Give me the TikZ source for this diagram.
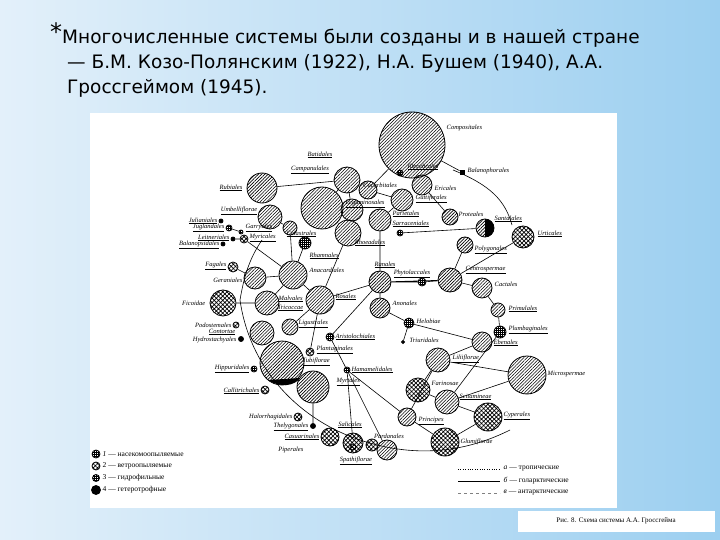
\documentclass[tikz,border=0pt]{standalone}
\usepackage{fontspec}
\newfontfamily\titlefont{DejaVu Sans}
\newfontfamily\lblfont{Liberation Serif}
\usetikzlibrary{patterns,patterns.meta}
\definecolor{bgl}{HTML}{E3F0FA}
\definecolor{bgr}{HTML}{9CCFF0}
\tikzset{
 cb/.style={circle,draw,inner sep=0pt,line width=0.8pt},
 hatch/.style={cb,pattern={Lines[angle=45,distance=2.3pt,line width=0.6pt]}},
 grid/.style={cb,pattern={Hatch[angle=45,distance=3pt,line width=0.7pt]}},
 dots/.style={cb,pattern={Hatch[angle=0,distance=2pt,line width=0.5pt]}},
 blk/.style={cb,fill=black},
 lbl/.style={font=\lblfont\itshape\fontsize{6.5}{7}\selectfont,inner sep=0.5pt},
 con/.style={line width=0.6pt},
 leg/.style={font=\lblfont\fontsize{7.5}{8}\selectfont,anchor=west,inner sep=0.5pt}
}
\newcommand\cc[4]{\node[#1,minimum size=#4pt] (#2) at (#3) {};}
\begin{document}
\begin{tikzpicture}[x=1pt,y=-1pt]
\useasboundingbox (0,0) rectangle (720,540);
\shade[left color=bgl,right color=bgr] (0,0) rectangle (720,540);
\fill[white] (90,113) rectangle (617,508);
\fill[white] (518,511) rectangle (715,532);
\node[font=\lblfont\fontsize{7}{8}\selectfont] (cap) at (616,521) {Рис. 8. Схема системы А.А. Гроссгейма};
% title
\node[font=\titlefont\fontsize{24}{24}\selectfont,anchor=north west,inner sep=0] (ast) at (50,22) {*};
\node[font=\titlefont\fontsize{18.5}{25}\selectfont,anchor=north west,align=left,inner sep=0] (title) at (62,29)
{Многочисленные системы были созданы и в нашей стране\\
\hspace*{5pt}— Б.М. Козо-Полянским (1922), Н.А. Бушем (1940), А.А.\\
\hspace*{5pt}Гроссгеймом (1945).};
% big arc
\draw[con] (453,170) .. controls (490,185) and (505,200) .. (512,225);
\draw[con] (240,300) .. controls (250,370) and (300,420) .. (360,440) .. controls (420,460) and (470,450) .. (510,430);
\draw[con] (240,300) .. controls (245,270) and (252,255) .. (262,240);
% circles
\cc{hatch}{comp}{412,145}{66}
\cc{hatch}{camp}{347,180}{26}
\cc{hatch}{c2}{352,210}{22}
\cc{hatch}{cucu}{368,190}{18}
\cc{hatch}{eric}{422,185}{20}
\cc{hatch}{legu}{402,200}{22}
\cc{hatch}{pari}{380,220}{22}
\cc{hatch}{prot}{450,217}{16}
\node[cb,minimum size=18pt,path picture={\fill (path picture bounding box.north) rectangle (path picture bounding box.south east);\fill[pattern={Lines[angle=45,distance=2.3pt,line width=0.6pt]}] (path picture bounding box.north) rectangle (path picture bounding box.south west);}] (half) at (485,228) {};
\cc{grid}{urti}{523,237}{22}
\cc{hatch}{poly}{465,245}{16}
\cc{hatch}{cent}{450,280}{24}
\cc{hatch}{cact}{482,288}{20}
\cc{dots}{phyt}{422,282}{8}
\cc{hatch}{rhoe}{380,282}{22}
\cc{dots}{sarr}{400,233}{6}
\cc{hatch}{bubi}{262,188}{30}
\cc{hatch}{umbe}{270,217}{24}
\cc{hatch}{big1}{322,208}{42}
\cc{hatch}{c3}{348,233}{26}
\cc{hatch}{cela}{290,228}{14}
\cc{dots}{rham}{305,243}{12}
\cc{hatch}{anac}{293,275}{28}
\cc{hatch}{gera}{255,278}{22}
\cc{grid}{faga}{233,267}{10}
\cc{blk}{juli}{221,221}{4}
\cc{dots}{jugl}{229,228}{6}
\cc{dots}{garr}{241,232}{4}
\cc{grid}{myri}{244,239}{8}
\cc{blk}{leit}{233,239}{4}
\cc{blk}{bala}{223,244}{4}
\cc{grid}{fico}{223,303}{26}
\cc{hatch}{malv}{267,303}{24}
\cc{hatch}{rosa}{320,300}{28}
\cc{hatch}{cont}{262,333}{24}
\cc{hatch}{bigm}{282,363}{44}
\fill (268,380) .. controls (280,388) and (295,386) .. (300,378) -- cycle;
\cc{hatch}{ligu}{290,327}{16}
\cc{hatch}{muci}{313,387}{32}
\cc{grid}{podo}{236,325}{6}
\cc{blk}{hydr}{241,339}{5}
\cc{dots}{hipp}{254,369}{6}
\cc{grid}{call}{265,390}{8}
\cc{grid}{halo}{298,417}{8}
\cc{blk}{thel}{313,426}{5}
\cc{dots}{aris}{330,337}{8}
\cc{grid}{plan}{310,352}{8}
\cc{dots}{hama}{347,370}{6}
\cc{grid}{casu}{330,437}{18}
\cc{grid}{sola}{353,443}{20}
\cc{hatch}{anon}{380,308}{20}
\cc{dots}{helo}{409,323}{10}
\cc{blk}{triu}{403,342}{3}
\cc{hatch}{prim}{498,310}{14}
\cc{dots}{plum}{500,332}{12}
\cc{hatch}{eben}{482,342}{20}
\cc{hatch}{lili}{438,360}{24}
\cc{hatch}{micr}{527,375}{38}
\cc{grid}{farin}{418,390}{24}
\cc{hatch}{scit}{447,402}{24}
\cc{grid}{cype}{488,417}{28}
\cc{hatch}{prin}{407,417}{18}
\cc{grid}{glum}{445,442}{28}
\cc{hatch}{pand}{387,450}{20}
\cc{grid}{p2}{372,445}{12}
\cc{grid}{spat}{353,447}{6}
\node[cb,fill=black,rectangle,minimum size=4pt] (balp) at (462,172) {};
\cc{dots}{ilye}{400,173}{6}
% connectors
\draw[con] (comp)--(cucu) (comp)--(ilye) (comp)--(balp) (camp)--(c2) (c2)--(c3) (cucu)--(legu) (legu)--(pari)
 (pari)--(rhoe) (eric)--(prot) (half)--(sarr) (cent)--(poly) (cent)--(urti) (cent)--(cact) (cent)--(phyt)
 (phyt)--(rhoe) (rhoe)--(anon) (rhoe)--(aris) (rhoe)--(rosa) (anon)--(helo) (helo)--(triu) (helo)--(eben)
 (cact)--(prim) (prim)--(plum) (plum)--(scit) (lili)--(micr) (lili)--(farin) (lili)--(prin) (farin)--(scit)
 (scit)--(cype) (prin)--(glum) (glum)--(cype) (hama)--(pand) (hama)--(prin) (hama)--(sola) (bubi)--(camp)
 (umbe)--(cela) (cela)--(anac) (rham)--(anac) (anac)--(myri) (anac)--(rosa) (anac)--(malv) (rosa)--(plan)
 (rosa)--(ligu) (muci)--(thel) (gera)--(faga) (myri)--(leit) (jugl)--(garr) (fico)--(malv) (c3)--(rosa)
 (anac)--(gera) (big1)--(camp) (rhoe)--(cent) (aris)--(hama) (eben)--(lili) (micr)--(scit);
% labels
\node[lbl,anchor=west] (lcomp) at (446,128) {Compositales};
\node[lbl] (lbati) at (320,155) {\underline{Batidales}};
\node[lbl] (lcamp) at (310,170) {\underline{Campanulales}};
\node[lbl] (lilye) at (423,167) {\underline{Illecebrales}};
\node[lbl,anchor=west] (lbalp) at (467,171) {Balanophorales};
\node[lbl] (lcucu) at (380,185) {Cucurbitales};
\node[lbl,anchor=west] (leric) at (434,188) {Ericales};
\node[lbl] (llegu) at (365,204) {\underline{Leguminosales}};
\node[lbl,anchor=west] (lgutt) at (415,199) {\underline{Guttiferales}};
\node[lbl,anchor=west] (lpari) at (392,214) {\underline{Parietales}};
\node[lbl,anchor=west] (lsarr) at (392,224) {\underline{Sarraceniales}};
\node[lbl,anchor=west] (lprot) at (458,214) {Proteales};
\node[lbl,anchor=west] (lsant) at (494,219) {\underline{Santalales}};
\node[lbl,anchor=west] (lurti) at (537,234) {\underline{Urticales}};
\node[lbl,anchor=west] (lpoly) at (474,250) {\underline{Polygonales}};
\node[lbl] (lrhoe) at (370,243) {\underline{Rhoeadales}};
\node[lbl] (lrana) at (385,265) {\underline{Ranales}};
\node[lbl] (lphyt) at (412,274) {\underline{Phytolaccales}};
\node[lbl,anchor=west] (lcent) at (465,270) {\underline{Centrospermae}};
\node[lbl,anchor=west] (lcact) at (494,284) {Cactales};
\node[lbl,anchor=east] (lbubi) at (243,188) {\underline{Rubiales}};
\node[lbl,anchor=east] (lumbe) at (258,211) {\underline{Umbelliflorae}};
\node[lbl,anchor=east] (ljuli) at (218,221) {\underline{Julianiales}};
\node[lbl,anchor=east] (ljugl) at (225,228) {\underline{Juglandales}};
\node[lbl,anchor=west] (lgarr) at (245,228) {\underline{Garryales}};
\node[lbl,anchor=east] (lleit) at (230,238) {\underline{Leitneriales}};
\node[lbl,anchor=west] (lmyri) at (249,238) {\underline{Myricales}};
\node[lbl,anchor=east] (lbala) at (220,245) {\underline{Balanopsidales}};
\node[lbl,anchor=west] (lcela) at (286,234) {\underline{Celastrales}};
\node[lbl,anchor=west] (lrham) at (309,256) {\underline{Rhamnales}};
\node[lbl,anchor=west] (lanac) at (309,270) {Anacardiales};
\node[lbl,anchor=east] (lfaga) at (227,266) {\underline{Fagales}};
\node[lbl,anchor=east] (lgera) at (243,280) {Geraniales};
\node[lbl,anchor=east] (lfico) at (206,303) {Ficoidae};
\node[lbl,anchor=west] (lmalv) at (278,299) {\underline{Malvales}};
\node[lbl,anchor=west] (ltric) at (277,308) {\underline{Tricoccae}};
\node[lbl,anchor=west] (lrosa) at (335,297) {\underline{Rosales}};
\node[lbl,anchor=west] (lanon) at (392,303) {Anonales};
\node[lbl,anchor=west] (lhelo) at (416,321) {Helobiae};
\node[lbl,anchor=west] (ltriu) at (409,340) {Triuridales};
\node[lbl,anchor=west] (lprim) at (508,309) {\underline{Primulales}};
\node[lbl,anchor=west] (lplum) at (508,330) {\underline{Plumbaginales}};
\node[lbl,anchor=west] (leben) at (493,343) {\underline{Ebenales}};
\node[lbl,anchor=west] (llili) at (452,359) {\underline{Liliiflorae}};
\node[lbl,anchor=west] (lmicr) at (547,374) {Microspermae};
\node[lbl,anchor=west] (lfari) at (431,383) {Farinosae};
\node[lbl,anchor=west] (lscit) at (459,397) {\underline{Scitamineae}};
\node[lbl,anchor=west] (lcype) at (503,416) {\underline{Cyperales}};
\node[lbl,anchor=west] (lprin) at (418,421) {\underline{Principes}};
\node[lbl,anchor=west] (lglum) at (460,442) {Glumiflorae};
\node[lbl] (lpand) at (389,436) {Pardanales};
\node[lbl] (lspat) at (356,461) {\underline{Spathiflorae}};
\node[lbl,anchor=east] (lpodo) at (232,325) {Podostemales};
\node[lbl,anchor=east] (lcont) at (236,332) {\underline{Contortae}};
\node[lbl,anchor=east] (lhydr) at (237,340) {Hydrostachyales};
\node[lbl,anchor=west] (lligu) at (298,324) {\underline{Ligustrales}};
\node[lbl,anchor=east] (lhipp) at (250,369) {\underline{Hippuridales}};
\node[lbl,anchor=east] (lcall) at (260,391) {\underline{Callitrichales}};
\node[lbl,anchor=west] (laris) at (335,337) {\underline{Aristolochiales}};
\node[lbl,anchor=west] (lplan) at (316,350) {\underline{Plantaginales}};
\node[lbl,anchor=west] (ltubi) at (302,362) {\underline{Tubiflorae}};
\node[lbl,anchor=west] (lhama) at (351,370) {\underline{Hamamelidales}};
\node[lbl,anchor=west] (lmyrt) at (336,382) {\underline{Myrtales}};
\node[lbl,anchor=east] (lhalo) at (293,417) {Halorrhagidales};
\node[lbl,anchor=east] (lthel) at (309,427) {\underline{Thelygonales}};
\node[lbl,anchor=east] (lcasu) at (320,437) {\underline{Casuarinales}};
\node[lbl] (lsola) at (350,425) {\underline{Salicales}};
\node[lbl,anchor=east] (lpipe) at (304,450) {Piperales};
% legend left
\cc{dots}{g1}{96,454}{8}
\cc{grid}{g2}{96,466}{8}
\cc{dots}{g3}{96,478}{7}
\cc{blk}{g4}{96,490}{9}
\node[leg] (t1) at (102,454) {\textit{1} — насекомоопыляемые};
\node[leg] (t2) at (102,466) {2 — ветроопыляемые};
\node[leg] (t3) at (102,478) {3 — гидрофильные};
\node[leg] (t4) at (102,490) {4 — гетеротрофные};
% legend right
\coordinate (a1) at (458,469); \coordinate (a2) at (500,469);
\coordinate (b1) at (458,481); \coordinate (b2) at (500,481);
\coordinate (c1) at (458,493); \coordinate (c2) at (500,493);
\draw[dotted] (a1)--(a2); \draw[con] (b1)--(b2); \draw[dashed,gray] (c1)--(c2);
\node[leg] (ta) at (503,469) {\textit{а} — тропические};
\node[leg] (tb) at (503,481) {\textit{б} — голарктические};
\node[leg] (tc) at (503,493) {\textit{в} — антарктические};
\end{tikzpicture}
\end{document}
